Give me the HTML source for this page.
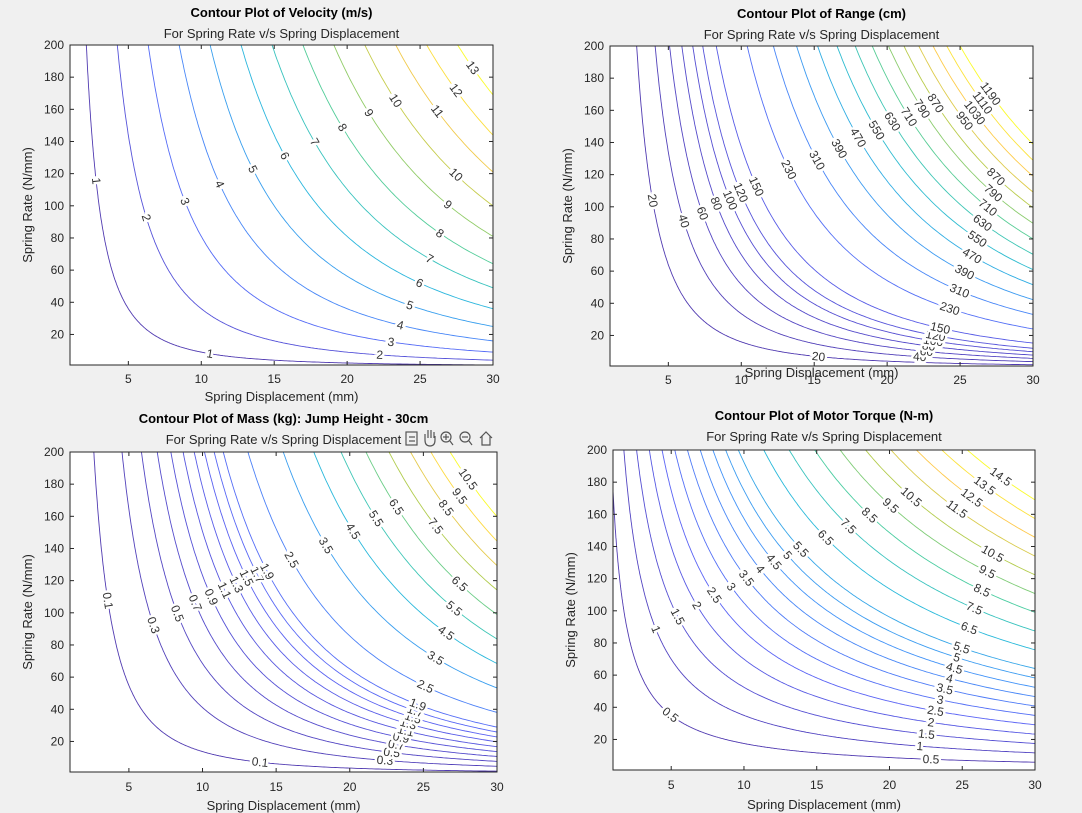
<!DOCTYPE html>
<html><head><meta charset="utf-8">
<style>
html,body{margin:0;padding:0;background:#f0f0f0;}
svg{display:block;font-family:"Liberation Sans",Arial,sans-serif;}
</style></head>
<body>
<svg id="fig" width="1082" height="813" viewBox="0 0 1082 813" xmlns="http://www.w3.org/2000/svg">
<rect x="0" y="0" width="1082" height="813" fill="#f0f0f0"/>
</svg>
<script>
// ---- data ----
const velocityLevels = [1,2,3,4,5,6,7,8,9,10,11,12,13];
const rangeLevels = [20,40,60,80,100,120,150,230,310,390,470,550,630,710,790,870,950,1030,1110,1190];
const massLevels = [0.1,0.3,0.5,0.7,0.9,1.1,1.3,1.5,1.7,1.9,2.5,3.5,4.5,5.5,6.5,7.5,8.5,9.5,10.5];
const torqueLevels = [0.5,1,1.5,2,2.5,3,3.5,4,4.5,5,5.5,6.5,7.5,8.5,9.5,10.5,11.5,12.5,13.5,14.5];
const xTicks = [5,10,15,20,25,30];
const yTicks = [20,40,60,80,100,120,140,160,180,200];
const xDomain = [1,30];
const yDomain = [1,200];

const NS = "http://www.w3.org/2000/svg";
const svg = document.getElementById('fig');
function el(tag, attrs, parent){
  const e = document.createElementNS(NS, tag);
  for (const k in attrs) e.setAttribute(k, attrs[k]);
  (parent||svg).appendChild(e);
  return e;
}
const parula = [[0.2422,0.1504,0.6603],[0.2810,0.3228,0.9579],[0.1786,0.5289,0.9682],[0.0689,0.6948,0.8394],[0.2161,0.7843,0.5923],[0.6720,0.7793,0.2227],[0.9970,0.7659,0.2199],[0.9769,0.9839,0.0805]];
function cmap(t){
  t = Math.max(0, Math.min(1, t));
  const p = t*(parula.length-1), i = Math.min(parula.length-2, Math.floor(p)), f = p-i;
  const c = parula[i].map((v,j)=>Math.round(255*(v+(parula[i+1][j]-v)*f)));
  return `rgb(${c[0]},${c[1]},${c[2]})`;
}

// curve models: return spring rate k for displacement x at contour level L
const models = {
  velocity: (L,x)=>Math.pow(30*L/x,2),
  range: (L,x)=>Math.pow(40*Math.pow(L/20,1/1.875)/x,2),
  mass: (L,x)=>(L/7.3e-5)/(x*x),
  torque: (L,x)=>(L/0.00286)/x
};

let clipId = 0;
function panel(cfg){
  const g = el('g', {}, svg);
  
  
  const {l,r,t,b} = cfg.box;
  const sx = v => l + (v-xDomain[0])/(xDomain[1]-xDomain[0])*(r-l);
  const sy = v => b - (v-yDomain[0])/(yDomain[1]-yDomain[0])*(b-t);
  const bg = el('rect', {x:l,y:t,width:r-l,height:b-t,fill:'#fff'}, g);
  
  
  const cid = 'clip'+(clipId++);
  const cp = el('clipPath', {id:cid}, g);
  el('rect', {x:l,y:t,width:r-l,height:b-t}, cp);
  const cg = el('g', {'clip-path':`url(#${cid})`}, g);
  const lv = cfg.levels, lmin = lv[0], lmax = lv[lv.length-1];
  const labelLayer = el('g', {}, g);
  lv.forEach((L, idx)=>{
    const pts = [];
    const N = 500;
    for (let i=0;i<=N;i++){
      const x = xDomain[0]*Math.pow(xDomain[1]/xDomain[0], i/N);
      const k = cfg.model(L,x);
      if (k > 260 || k < 0.5) continue;
      pts.push([sx(x), sy(k)]);
    }
    if (pts.length < 2) return;
    const col = cmap((L-lmin)/(lmax-lmin));
    const path = el('path', {d:'M'+pts.map(p=>p[0].toFixed(1)+','+p[1].toFixed(1)).join('L'), fill:'none', stroke:col, 'stroke-width':0.9, 'stroke-opacity':0.9}, cg);
    
    
    const vis = pts.filter(p=>p[0]>=l+6 && p[0]<=r-6 && p[1]>=t+6 && p[1]<=b-4);
    if (vis.length < 4) return;
    let len=[0];
    for (let i=1;i<vis.length;i++) len.push(len[i-1]+Math.hypot(vis[i][0]-vis[i-1][0],vis[i][1]-vis[i-1][1]));
    const total = len[len.length-1];
    const fracs = total > 180 ? cfg.fracs : [0.5];
    fracs.forEach(fr=>{
      const target = total*fr;
      let i=1; while (i<len.length-1 && len[i]<target) i++;
      const p0 = vis[i-1], p1 = vis[i];
      let ang = Math.atan2(p1[1]-p0[1], p1[0]-p0[0])*180/Math.PI;
      if (ang > 90) ang -= 180; if (ang < -90) ang += 180;
      const tx = el('text', {x:p0[0], y:p0[1], 'font-size':12, fill:'#333', 'text-anchor':'middle', 'dominant-baseline':'central', transform:`rotate(${ang.toFixed(1)} ${p0[0].toFixed(1)} ${p0[1].toFixed(1)})`, stroke:'#fff', 'stroke-width':5, 'paint-order':'stroke'}, labelLayer);
      tx.textContent = String(L);
      
      
    });
  });
  const box = el('rect', {x:l,y:t,width:r-l,height:b-t,fill:'none',stroke:'#262626','stroke-width':1}, g);
  
  
  xTicks.forEach(v=>{
    const x = sx(v);
    el('line', {x1:x,y1:b,x2:x,y2:b-4,stroke:'#262626'}, g);
    el('line', {x1:x,y1:t,x2:x,y2:t+4,stroke:'#262626'}, g);
    const tx = el('text', {x:x, y:b+cfg.xtickDy, 'font-size':12, fill:'#262626','text-anchor':'middle'}, g);
    tx.textContent = v;
    
    
  });
  yTicks.forEach(v=>{
    const y = sy(v);
    el('line', {x1:l,y1:y,x2:l+4,y2:y,stroke:'#262626'}, g);
    el('line', {x1:r,y1:y,x2:r-4,y2:y,stroke:'#262626'}, g);
    const tx = el('text', {x:l-6, y:y+4, 'font-size':12, fill:'#262626','text-anchor':'end'}, g);
    tx.textContent = v;
    
    
  });
  const cx = (l+r)/2;
  const ti = el('text', {x:cx, y:cfg.titleY, 'font-size':13, 'font-weight':'bold', fill:'#000','text-anchor':'middle'}, g);
  ti.textContent = cfg.title;
  
  
  const st = el('text', {x:cx, y:cfg.titleY+21, 'font-size':13, fill:'#262626','text-anchor':'middle'}, g);
  st.textContent = cfg.subtitle;
  
  
  const xl = el('text', {x:cx, y:cfg.xlabelY, 'font-size':13, fill:'#262626','text-anchor':'middle'}, g);
  xl.textContent = 'Spring Displacement (mm)';
  
  
  const yc = (t+b)/2, yx = l-38;
  const yl = el('text', {x:yx, y:yc, 'font-size':13, fill:'#262626','text-anchor':'middle', transform:`rotate(-90 ${yx} ${yc})`}, g);
  yl.textContent = 'Spring Rate (N/mm)';
  
  
  return g;
}

panel({name:'velocity-contour-plot', box:{l:70,r:493,t:45,b:365}, levels:velocityLevels, model:models.velocity, fracs:[0.3,0.82],
  title:'Contour Plot of Velocity (m/s)', subtitle:'For Spring Rate v/s Spring Displacement', titleY:17, xtickDy:18, xlabelY:401});
panel({name:'range-contour-plot', box:{l:610,r:1033,t:46,b:366}, levels:rangeLevels, model:models.range, fracs:[0.3,0.82],
  title:'Contour Plot of Range (cm)', subtitle:'For Spring Rate v/s Spring Displacement', titleY:18, xtickDy:18, xlabelY:377});
panel({name:'mass-contour-plot', box:{l:70,r:497,t:452,b:772}, levels:massLevels, model:models.mass, fracs:[0.3,0.82],
  title:'Contour Plot of Mass (kg): Jump Height - 30cm', subtitle:'For Spring Rate v/s Spring Displacement', titleY:423, xtickDy:19, xlabelY:810});
panel({name:'torque-contour-plot', box:{l:613,r:1035,t:450,b:770}, levels:torqueLevels, model:models.torque, fracs:[0.3,0.82],
  title:'Contour Plot of Motor Torque (N-m)', subtitle:'For Spring Rate v/s Spring Displacement', titleY:420, xtickDy:19, xlabelY:809});

const tb = el('g', {fill:'none', stroke:'#555', 'stroke-width':1.2});


[[412,'rect'],[430,'hand'],[447,'zin'],[466,'zout'],[486,'home']].forEach(([x,kind])=>{
  const g = el('g', {}, tb);
  
  
  if (kind==='rect'){ el('rect',{x:x-6,y:432,width:11,height:13},g); el('line',{x1:x-3,y1:437,x2:x+3,y2:437},g); el('line',{x1:x-3,y1:441,x2:x+3,y2:441},g); }
  else if (kind==='hand'){ el('path',{d:`M${x-5},440 l0,-6 M${x-2},438 l0,-8 M${x+1},438 l0,-8 M${x+4},438 l0,-6 M${x-5},440 q0,6 5,6 q5,0 5,-6 l0,-4`},g); }
  else if (kind==='home'){ el('path',{d:`M${x-6},438 l6,-6 l6,6 M${x-4},436 l0,9 l8,0 l0,-9`},g); }
  else { el('circle',{cx:x-1,cy:437,r:5},g); el('line',{x1:x+3,y1:441,x2:x+6,y2:445},g); el('line',{x1:x-4,y1:437,x2:x+2,y2:437},g); if(kind==='zin') el('line',{x1:x-1,y1:434,x2:x-1,y2:440},g); }
});
</script>
</body></html>
